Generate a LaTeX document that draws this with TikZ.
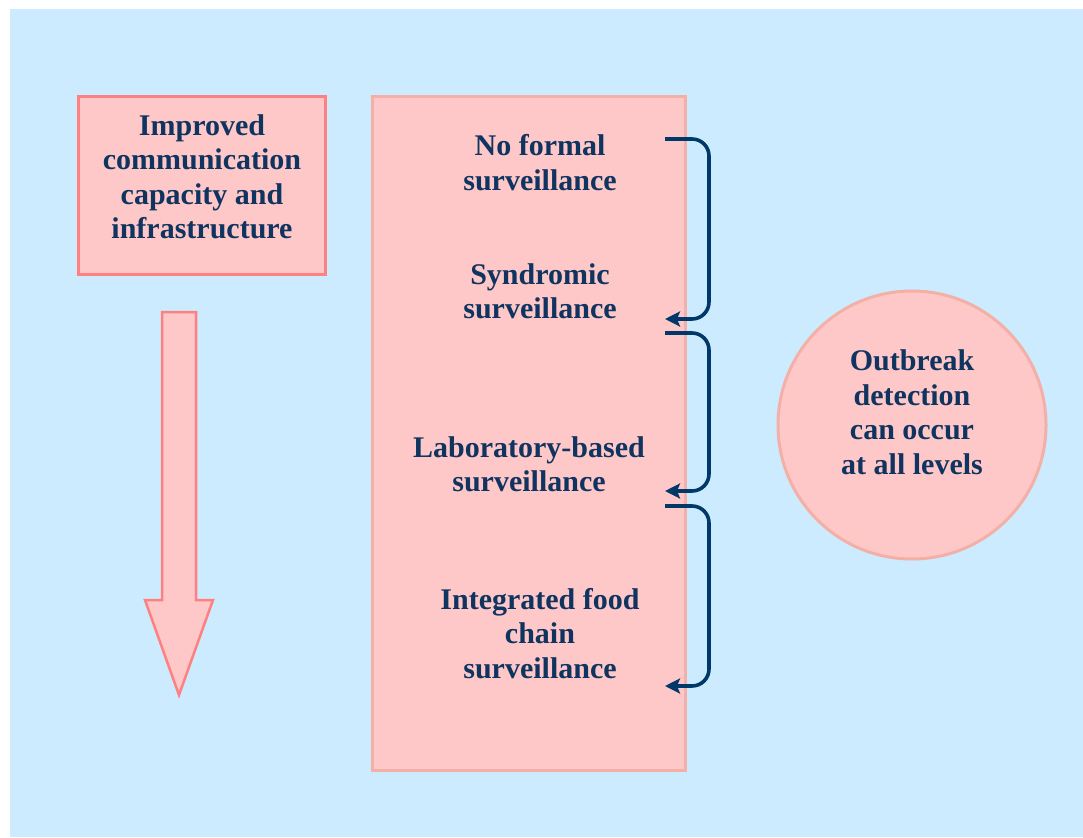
\documentclass[tikz,border=0pt]{standalone}
\usepackage{fontspec}
\setmainfont{Liberation Serif}
\usetikzlibrary{arrows.meta}
\definecolor{bgblue}{RGB}{204,235,254}
\definecolor{pinkfill}{RGB}{255,200,200}
\definecolor{redline}{RGB}{255,128,128}
\definecolor{salmonline}{RGB}{244,176,166}
\definecolor{navytext}{RGB}{16,52,96}
\definecolor{navyarrow}{RGB}{0,56,106}
\tikzset{
  lbl/.style={text=navytext, font=\bfseries\fontsize{30}{34.5}\selectfont, align=center, inner sep=0pt},
  brk/.style={draw=navyarrow, line width=3.6pt, rounded corners=17pt, -{Stealth[length=15pt,width=15pt,inset=3pt]}},
}
\begin{document}
\begin{tikzpicture}[x=1pt,y=-1pt]
\useasboundingbox (0,0) rectangle (1083,837);
\fill[white] (0,0) rectangle (1083,837);
\fill[bgblue] (10,9) rectangle (1083,837);
% left box
\node (commbox) [draw=redline, fill=pinkfill, line width=3pt, minimum width=247pt, minimum height=178pt, inner sep=0pt] at (202,185.5) {};
\node (commtxt) [lbl] at (202,177) {Improved\\communication\\capacity and\\infrastructure};
% big arrow
\draw[draw=redline, fill=pinkfill, line width=2.5pt, line join=miter]
  (162,312) -- (196,312) -- (196,600) -- (213,600) -- (179,695) -- (145,600) -- (162,600) -- cycle;
% middle column
\node (column) [draw=salmonline, fill=pinkfill, line width=3pt, minimum width=313pt, minimum height=674pt, inner sep=0pt] at (529,433.5) {};
\node (nofs) [lbl] at (540,162.5) {No formal\\surveillance};
\node (synd) [lbl] at (540,291.5) {Syndromic\\surveillance};
\node (labs) [lbl] at (529,464.5) {Laboratory-based\\surveillance};
\node (integ) [lbl] at (540,633.5) {Integrated food\\chain\\surveillance};
% brackets
\coordinate (b1s) at (665,139);
\coordinate (b1e) at (665,319);
\coordinate (b2s) at (665,333);
\coordinate (b2e) at (665,491);
\coordinate (b3s) at (665,506);
\coordinate (b3e) at (665,686);
\draw[brk] (b1s) -| ([xshift=44pt]b1e) -- (b1e);
\draw[brk] (b2s) -| ([xshift=44pt]b2e) -- (b2e);
\draw[brk] (b3s) -| ([xshift=44pt]b3e) -- (b3e);
% circle
\node (outcircle) [circle, draw=salmonline, fill=pinkfill, line width=3pt, minimum size=268pt, inner sep=0pt] at (912,425) {};
\node (outtxt) [lbl] at (912,412) {Outbreak\\detection\\can occur\\at all levels};
\end{tikzpicture}
\end{document}
